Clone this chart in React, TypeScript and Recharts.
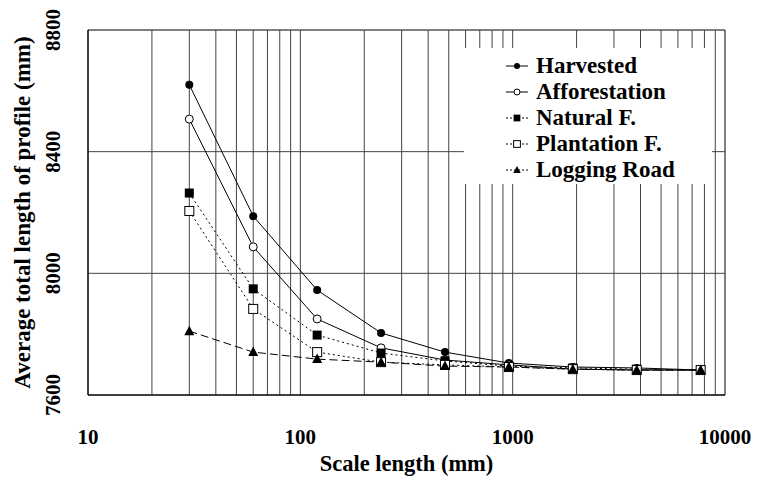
import React from "react";
import {
  LineChart,
  Line,
  XAxis,
  YAxis,
  ReferenceLine,
  ReferenceArea,
} from "recharts";

const scales = [30, 60, 120, 240, 480, 960, 1920, 3840, 7680];
const harvested = [8620, 8188, 7945, 7804, 7741, 7705, 7692, 7689, 7682];
const afforestation = [8507, 8087, 7850, 7755, 7715, 7699, 7685, 7682, 7682];
const naturalF = [8264, 7949, 7797, 7738, 7712, 7695, 7689, 7685, 7682];
const plantationF = [8205, 7883, 7741, 7708, 7699, 7692, 7685, 7682, 7682];
const loggingRoad = [7810, 7741, 7718, 7708, 7695, 7692, 7685, 7682, 7682];

const xTicks = [10, 100, 1000, 10000];
const yTicks = [7600, 8000, 8400, 8800];
const xGrid = [20, 30, 40, 50, 60, 70, 80, 90, 100, 200, 300, 400, 500, 600, 700, 800, 900, 1000, 2000, 3000, 4000, 5000, 6000, 7000, 8000, 9000];
const yGrid = [8000, 8400];

const data = scales.map((s, i) => ({
  scale: s,
  harvested: harvested[i],
  afforestation: afforestation[i],
  natural: naturalF[i],
  plantation: plantationF[i],
  logging: loggingRoad[i],
}));

const FONT = "'Liberation Serif', 'Times New Roman', serif";

type Marker = "dot" | "circle" | "square" | "openSquare" | "triangle";

const series: { key: string; name: string; marker: Marker; dash?: string }[] = [
  { key: "harvested", name: "Harvested", marker: "dot" },
  { key: "afforestation", name: "Afforestation", marker: "circle" },
  { key: "natural", name: "Natural F.", marker: "square", dash: "2 3" },
  { key: "plantation", name: "Plantation F.", marker: "openSquare", dash: "2 3" },
  { key: "logging", name: "Logging Road", marker: "triangle", dash: "8 4" },
];

function markerShape(kind: Marker, cx: number, cy: number, s = 1, key?: string) {
  if (kind === "dot") return <circle key={key} cx={cx} cy={cy} r={4 * s} fill="#000" />;
  if (kind === "circle")
    return <circle key={key} cx={cx} cy={cy} r={4 * s} fill="#fff" stroke="#000" strokeWidth={1} />;
  if (kind === "square")
    return <rect key={key} x={cx - 4.5 * s} y={cy - 4.5 * s} width={9 * s} height={9 * s} fill="#000" />;
  if (kind === "openSquare")
    return (
      <rect key={key} x={cx - 4.5 * s} y={cy - 4.5 * s} width={9 * s} height={9 * s} fill="#fff" stroke="#000" strokeWidth={1} />
    );
  return (
    <polygon
      key={key}
      points={`${cx},${cy - 5.5 * s} ${cx - 5 * s},${cy + 4 * s} ${cx + 5 * s},${cy + 4 * s}`}
      fill="#000"
    />
  );
}

const XTick = (props: any) => {
  const { x, y, payload } = props;
  return (
    <text x={x} y={y + 41} textAnchor="middle" fontFamily={FONT} fontWeight="bold" fontSize={21} fill="#000">
      {payload.value}
    </text>
  );
};

const YTick = (props: any) => {
  const { y, payload } = props;
  return (
    <text
      x={0}
      y={0}
      transform={`translate(60, ${y}) rotate(-90)`}
      textAnchor="middle"
      fontFamily={FONT}
      fontWeight="bold"
      fontSize={21}
      fill="#000"
    >
      {payload.value}
    </text>
  );
};

function LegendBox() {
  return (
    <div
      style={{
        position: "absolute",
        left: 464,
        top: 48,
        width: 248,
        height: 136,
        boxSizing: "border-box",
        background: "#fff",
        padding: "5px 0 0 42px",
        fontFamily: FONT,
      }}
    >
      {series.map((s) => (
        <div key={s.key} style={{ display: "flex", alignItems: "center", height: 26 }}>
          <svg width={22} height={14} style={{ marginRight: 8 }}>
            <line x1={0} y1={7} x2={22} y2={7} stroke="#000" strokeWidth={1} strokeDasharray={s.dash ? "2 2" : undefined} />
            {markerShape(s.marker, 11, 7, 0.75)}
          </svg>
          <span style={{ fontWeight: "bold", fontSize: 23, color: "#000", lineHeight: "26px" }}>{s.name}</span>
        </div>
      ))}
    </div>
  );
}

export default function App() {
  return (
    <div style={{ position: "absolute", left: 0, top: 0, width: 759, height: 477, background: "#fff" }}>
      <LineChart width={759} height={477} data={data} margin={{ top: 30, right: 34, left: 0, bottom: 0 }}>
        <XAxis
          dataKey="scale"
          type="number"
          scale="log"
          domain={[10, 10000]}
          ticks={xTicks}
          tick={<XTick />}
          tickLine={false}
          axisLine={{ stroke: "#000" }}
          height={82}
          allowDataOverflow
          label={{
            value: "Scale length (mm)",
            position: "insideBottom",
            offset: 6,
            style: { fontFamily: FONT, fontWeight: "bold", fontSize: 22.5, fill: "#000" },
          }}
        />
        <YAxis
          type="number"
          domain={[7600, 8800]}
          ticks={yTicks}
          tick={<YTick />}
          tickLine={false}
          axisLine={{ stroke: "#000" }}
          width={88}
          label={{
            value: "Average total length of profile (mm)",
            angle: -90,
            position: "insideLeft",
            offset: 22,
            style: { textAnchor: "middle", fontFamily: FONT, fontWeight: "bold", fontSize: 23, fill: "#000" },
          }}
        />
        {xGrid.map((v) => (
          <ReferenceLine key={`gx${v}`} x={v} stroke="#444" strokeWidth={1} />
        ))}
        {yGrid.map((v) => (
          <ReferenceLine key={`gy${v}`} y={v} stroke="#444" strokeWidth={1} />
        ))}
        <ReferenceArea x1={10} x2={10000} y1={7600} y2={8800} fill="none" stroke="#000" strokeWidth={1} />
        {series.map((s) => (
          <Line
            key={s.key}
            dataKey={s.key}
            name={s.name}
            stroke="#000"
            strokeWidth={1}
            strokeDasharray={s.dash}
            isAnimationActive={false}
            dot={(p: any) => markerShape(s.marker, p.cx, p.cy, 1, `${s.key}-${p.index}`)}
            activeDot={false}
          />
        ))}
      </LineChart>
      <LegendBox />
    </div>
  );
}
